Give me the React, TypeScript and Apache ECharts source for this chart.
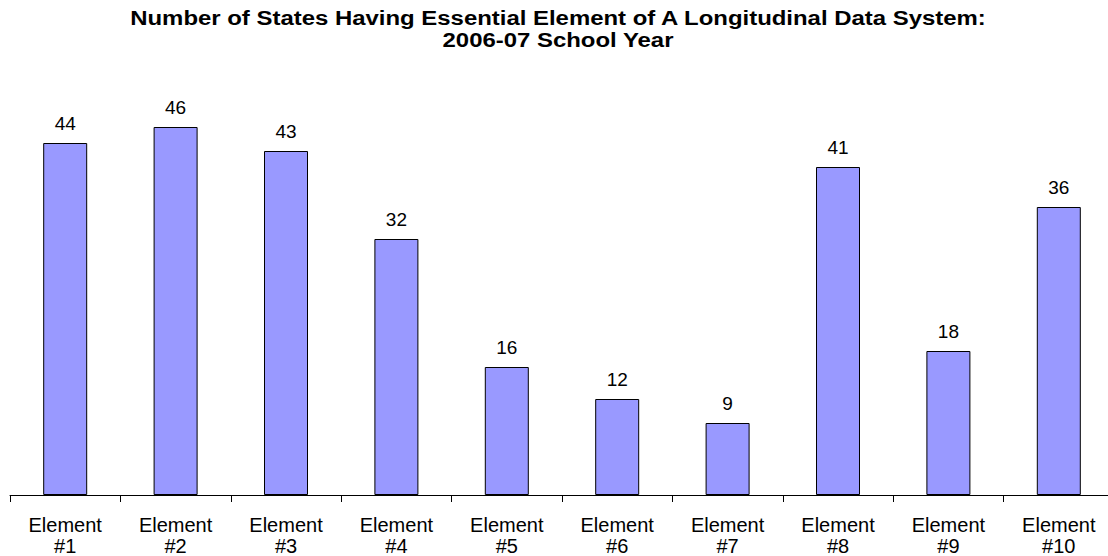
import React, { useEffect, useRef } from "react";
import * as echarts from "echarts";

const titleLines = [
  "Number of States Having Essential Element of A Longitudinal Data System:",
  "2006-07 School Year",
];
const categories = [
  "Element\n#1",
  "Element\n#2",
  "Element\n#3",
  "Element\n#4",
  "Element\n#5",
  "Element\n#6",
  "Element\n#7",
  "Element\n#8",
  "Element\n#9",
  "Element\n#10",
];
const values = [44, 46, 43, 32, 16, 12, 9, 41, 18, 36];

const FONT = "'Liberation Sans', Arial, sans-serif";

export default function App() {
  const ref = useRef<HTMLDivElement>(null);
  useEffect(() => {
    if (!ref.current) return;
    const chart = echarts.init(ref.current, null, { renderer: "svg" });
    chart.setOption({
      animation: false,
      backgroundColor: "#ffffff",
      graphic: [
        {
          type: "text",
          x: 558,
          y: 7,
          scaleX: 1.14,
          style: {
            text: titleLines.join("\n"),
            fontFamily: FONT,
            fontSize: 21,
            fontWeight: "bold",
            fill: "#000",
            lineHeight: 22,
            align: "center",
            verticalAlign: "top",
          },
        },
      ],
      grid: {
        left: 10,
        right: 6,
        top: 95,
        bottom: 61,
        containLabel: false,
        outerBoundsMode: "none",
      },
      xAxis: {
        type: "category",
        data: categories,
        axisLine: { show: true, lineStyle: { color: "#000", width: 1 } },
        axisTick: { show: true, length: 7, lineStyle: { color: "#000" } },
        axisLabel: {
          fontFamily: FONT,
          fontSize: 20,
          color: "#000",
          lineHeight: 21,
          margin: 19,
          interval: 0,
        },
      },
      yAxis: {
        type: "value",
        min: 0,
        max: 50,
        show: false,
        splitLine: { show: false },
      },
      series: [
        {
          type: "bar",
          data: values,
          barWidth: 44,
          itemStyle: { color: "#9999FF", borderColor: "#000", borderWidth: 1 },
          label: {
            show: true,
            position: "top",
            distance: 10,
            fontFamily: FONT,
            fontSize: 19,
            color: "#000",
          },
        },
      ],
    });
    return () => chart.dispose();
  }, []);
  return (
    <div
      style={{
        position: "absolute",
        left: 0,
        top: 0,
        width: 1108,
        height: 556,
        overflow: "hidden",
        background: "#fff",
      }}
    >
      <div ref={ref} style={{ width: 1120, height: 556 }} />
    </div>
  );
}
